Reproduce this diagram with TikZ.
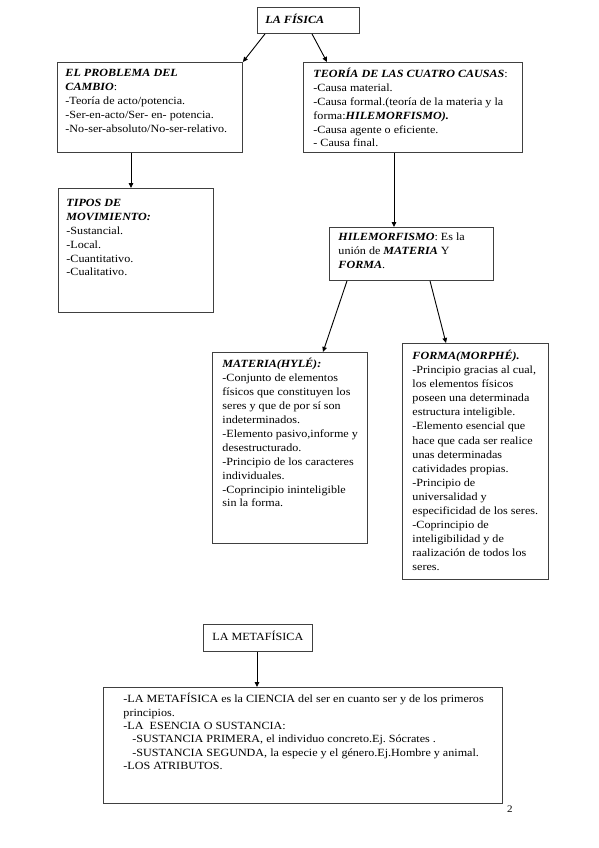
\documentclass[tikz,border=0pt]{standalone}
\usepackage{fontspec}
\setmainfont{Liberation Serif}[FakeStretch=1.1]
\usetikzlibrary{arrows.meta,calc}
\frenchspacing
\newcommand{\bi}[1]{\textbf{\textit{#1}}}
\newcommand{\cbox}[8]{%
  \node[box] (#1) at (#2,#3) {\parbox[t][#5pt][t]{#4pt}{\frenchspacing\vspace*{#7pt}\raggedright\leftskip=#6pt\relax\rule{0pt}{10.5pt}#8\par}};}
\tikzset{
  box/.style={draw=black!75, line width=0.9pt, anchor=north west, inner sep=0pt,
    font=\fontsize{11}{13.8}\selectfont},
  arr/.style={draw=black, line width=0.9pt, -{Triangle[length=5pt,width=4.5pt]}}
}
\begin{document}
\begin{tikzpicture}[x=1pt,y=-1pt]
\useasboundingbox (0,0) rectangle (599,848);
\cbox{fisica}{257}{7}{102}{26}{8}{5.5}{\bi{LA FÍSICA}}
\cbox{problema}{57}{62}{185}{90}{8}{4}{\bi{EL PROBLEMA DEL}\\ \bi{CAMBIO}:\\ -Teoría de acto/potencia.\\ -Ser-en-acto/Ser- en- potencia.\\ -No-ser-absoluto/No-ser-relativo.}
\cbox{teoria}{303}{62}{219}{90}{10}{5}{\bi{TEORÍA DE LAS CUATRO CAUSAS}:\\ -Causa material.\\ -Causa formal.(teoría de la materia y la\\ forma:\bi{HILEMORFISMO).}\\ -Causa agente o eficiente.\\ - Causa final.}
\cbox{tipos}{58}{188}{155}{124}{8}{8}{\bi{TIPOS DE}\\ \bi{MOVIMIENTO:}\\ -Sustancial.\\ -Local.\\ -Cuantitativo.\\ -Cualitativo.}
\cbox{hile}{329}{227}{164}{53}{9}{3}{\bi{HILEMORFISMO}: Es la\\ unión de \bi{MATERIA} Y\\ \bi{FORMA}.}
\cbox{materia}{212}{352}{155}{191}{10}{4.5}{\baselineskip=13.95pt\bi{MATERIA(HYLÉ):}\\ -Conjunto de elementos\\ físicos que constituyen los\\ seres y que de por sí son\\ indeterminados.\\ -Elemento pasivo,informe y\\ desestructurado.\\ -Principio de los caracteres\\ individuales.\\ -Coprincipio ininteligible\\ sin la forma.}
\cbox{forma}{402}{343}{146}{236}{10}{5.5}{\baselineskip=14.1pt\bi{FORMA(MORPHÉ).}\\ -Principio gracias al cual,\\ los elementos físicos\\ poseen una determinada\\ estructura inteligible.\\ -Elemento esencial que\\ hace que cada ser realice\\ unas determinadas\\ catividades propias.\\ -Principio de\\ universalidad y\\ especificidad de los seres.\\ -Coprincipio de\\ inteligibilidad y de\\ raalización de todos los\\ seres.}
\cbox{metafisica}{203}{624}{109}{27}{9}{5.5}{LA METAFÍSICA}
\cbox{big}{103}{687}{399}{116}{20}{5}{\baselineskip=13.3pt-LA METAFÍSICA es la CIENCIA del ser en cuanto ser y de los primeros\\ principios.\\ -LA\ \ ESENCIA O SUSTANCIA:\\ \hspace*{9pt}-SUSTANCIA PRIMERA, el individuo concreto.Ej. Sócrates .\\ \hspace*{9pt}-SUSTANCIA SEGUNDA, la especie y el género.Ej.Hombre y animal.\\ -LOS ATRIBUTOS.}
\node[anchor=base west, inner sep=0pt, font=\fontsize{10}{12}\selectfont] (pagenum) at (507,812) {2};
% connectors
\draw[arr] ($(fisica.south west)+(8,0)$) -- (problema.north east);
\draw[arr] ($(fisica.south west)+(55,0)$) -- ($(teoria.north west)+(24,0)$);
\draw[arr] ($(problema.south west)+(74,0)$) -- ($(tipos.north west)+(73,0)$);
\draw[arr] ($(teoria.south west)+(91,0)$) -- ($(hile.north west)+(65,0)$);
\draw[arr] ($(hile.south west)+(18,0)$) -- ($(materia.north west)+(111,0)$);
\draw[arr] ($(hile.south west)+(101,0)$) -- ($(forma.north west)+(44,0)$);
\draw[arr] ($(metafisica.south west)+(54,0)$) -- ($(big.north west)+(154,0)$);
\end{tikzpicture}
\end{document}
